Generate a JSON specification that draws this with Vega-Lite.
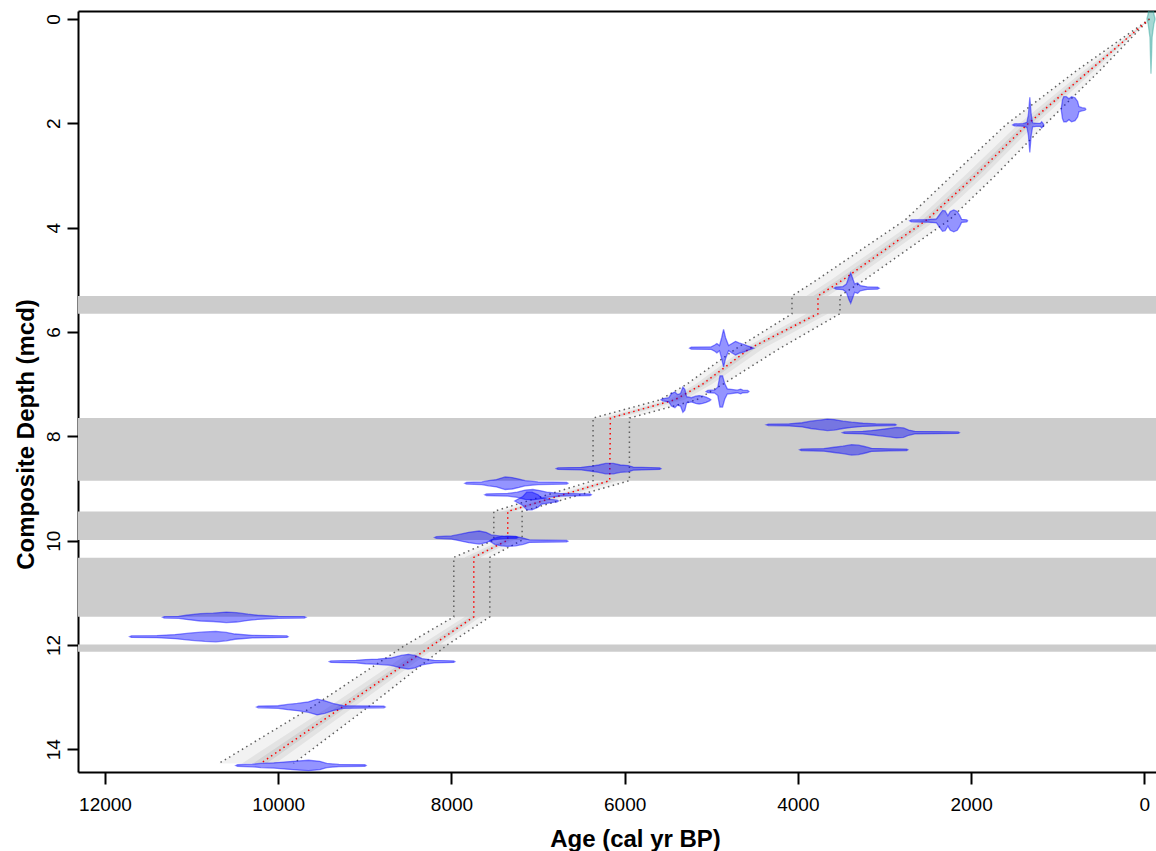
{
  "$schema": "https://vega.github.io/schema/vega-lite/v6.json",
  "width": 1078,
  "height": 761,
  "autosize": {"type": "none"},
  "padding": {"left": 78, "top": 11, "right": 0, "bottom": 79},
  "background": "white",
  "view": {"stroke": null},
  "config": {
    "font": "Liberation Sans",
    "axis": {"grid": false, "domainColor": "black", "tickColor": "black", "labelColor": "black", "titleColor": "black", "domainWidth": 2, "tickWidth": 2, "labelFontSize": 19, "labelOverlap": false, "labelFlush": false}
  },
  "datasets": {
    "model": [
      {"depth": 0, "med": -60, "old": -60, "young": -60, "iold": -60, "iyoung": -60, "cold": -60, "cyoung": -60},
      {"depth": 1.0, "med": 640, "old": 790, "young": 520, "iold": 707, "iyoung": 586, "cold": 667, "cyoung": 618},
      {"depth": 2.03, "med": 1357, "old": 1600, "young": 1150, "iold": 1466, "iyoung": 1264, "cold": 1401, "cyoung": 1320},
      {"depth": 3.0, "med": 1950, "old": 2220, "young": 1720, "iold": 2072, "iyoung": 1846, "cold": 1999, "cyoung": 1909},
      {"depth": 3.85, "med": 2511, "old": 2760, "young": 2250, "iold": 2623, "iyoung": 2394, "cold": 2556, "cyoung": 2464},
      {"depth": 5.0, "med": 3480, "old": 3780, "young": 3230, "iold": 3615, "iyoung": 3367, "cold": 3534, "cyoung": 3435},
      {"depth": 5.31, "med": 3768, "old": 4068, "young": 3514, "iold": 3903, "iyoung": 3654, "cold": 3822, "cyoung": 3722},
      {"depth": 5.65, "med": 3768, "old": 4068, "young": 3514, "iold": 3903, "iyoung": 3654, "cold": 3822, "cyoung": 3722},
      {"depth": 6.31, "med": 4550, "old": 4705, "young": 4205, "iold": 4620, "iyoung": 4395, "cold": 4578, "cyoung": 4488},
      {"depth": 7.0, "med": 5100, "old": 5283, "young": 4864, "iold": 5182, "iyoung": 4994, "cold": 5133, "cyoung": 5058},
      {"depth": 7.3, "med": 5420, "old": 5590, "young": 5168, "iold": 5497, "iyoung": 5307, "cold": 5451, "cyoung": 5375},
      {"depth": 7.65, "med": 6165, "old": 6365, "young": 5945, "iold": 6255, "iyoung": 6066, "cold": 6201, "cyoung": 6125},
      {"depth": 8.85, "med": 6173, "old": 6365, "young": 5945, "iold": 6259, "iyoung": 6071, "cold": 6208, "cyoung": 6133},
      {"depth": 9.44, "med": 7350, "old": 7511, "young": 7184, "iold": 7422, "iyoung": 7275, "cold": 7379, "cyoung": 7320},
      {"depth": 9.99, "med": 7350, "old": 7511, "young": 7184, "iold": 7422, "iyoung": 7275, "cold": 7379, "cyoung": 7320},
      {"depth": 10.32, "med": 7742, "old": 7973, "young": 7557, "iold": 7846, "iyoung": 7659, "cold": 7784, "cyoung": 7709},
      {"depth": 11.46, "med": 7742, "old": 7973, "young": 7557, "iold": 7846, "iyoung": 7659, "cold": 7784, "cyoung": 7709},
      {"depth": 12.0, "med": 8215, "old": 8530, "young": 8050, "iold": 8357, "iyoung": 8141, "cold": 8272, "cyoung": 8185},
      {"depth": 13.2, "med": 9270, "old": 9620, "young": 8970, "iold": 9427, "iyoung": 9135, "cold": 9333, "cyoung": 9216},
      {"depth": 14.27, "med": 10203, "old": 10684, "young": 9823, "iold": 10419, "iyoung": 10032, "cold": 10290, "cyoung": 10135}
    ],
    "bands": [
      {"top": 5.31, "bottom": 5.65},
      {"top": 7.65, "bottom": 8.85},
      {"top": 9.44, "bottom": 9.99},
      {"top": 10.33, "bottom": 11.46},
      {"top": 11.99, "bottom": 12.13}
    ],
    "dates": [
      {"date": "t", "kind": "cal", "depth": 0, "age": -125, "p": 0},
      {"date": "t", "kind": "cal", "depth": 0, "age": -110, "p": 0.1},
      {"date": "t", "kind": "cal", "depth": 0, "age": -90, "p": 0.35},
      {"date": "t", "kind": "cal", "depth": 0, "age": -77, "p": 1.05},
      {"date": "t", "kind": "cal", "depth": 0, "age": -65, "p": 0.35},
      {"date": "t", "kind": "cal", "depth": 0, "age": -45, "p": 0.1},
      {"date": "t", "kind": "cal", "depth": 0, "age": -30, "p": 0},

      {"date": "d2", "kind": "c14", "depth": 1.73, "age": 960, "p": 0},
      {"date": "d2", "kind": "c14", "depth": 1.73, "age": 945, "p": 0.18},
      {"date": "d2", "kind": "c14", "depth": 1.73, "age": 930, "p": 0.24},
      {"date": "d2", "kind": "c14", "depth": 1.73, "age": 900, "p": 0.24},
      {"date": "d2", "kind": "c14", "depth": 1.73, "age": 870, "p": 0.2},
      {"date": "d2", "kind": "c14", "depth": 1.73, "age": 840, "p": 0.24},
      {"date": "d2", "kind": "c14", "depth": 1.73, "age": 800, "p": 0.22},
      {"date": "d2", "kind": "c14", "depth": 1.73, "age": 770, "p": 0.15},
      {"date": "d2", "kind": "c14", "depth": 1.73, "age": 755, "p": 0.05},
      {"date": "d2", "kind": "c14", "depth": 1.73, "age": 720, "p": 0.03},
      {"date": "d2", "kind": "c14", "depth": 1.73, "age": 685, "p": 0.02},
      {"date": "d2", "kind": "c14", "depth": 1.73, "age": 675, "p": 0},

      {"date": "d3", "kind": "c14", "depth": 2.03, "age": 1520, "p": 0},
      {"date": "d3", "kind": "c14", "depth": 2.03, "age": 1500, "p": 0.02},
      {"date": "d3", "kind": "c14", "depth": 2.03, "age": 1400, "p": 0.025},
      {"date": "d3", "kind": "c14", "depth": 2.03, "age": 1355, "p": 0.05},
      {"date": "d3", "kind": "c14", "depth": 2.03, "age": 1338, "p": 0.2},
      {"date": "d3", "kind": "c14", "depth": 2.03, "age": 1322, "p": 0.53},
      {"date": "d3", "kind": "c14", "depth": 2.03, "age": 1306, "p": 0.2},
      {"date": "d3", "kind": "c14", "depth": 2.03, "age": 1290, "p": 0.04},
      {"date": "d3", "kind": "c14", "depth": 2.03, "age": 1250, "p": 0.03},
      {"date": "d3", "kind": "c14", "depth": 2.03, "age": 1200, "p": 0.03},
      {"date": "d3", "kind": "c14", "depth": 2.03, "age": 1185, "p": 0.06},
      {"date": "d3", "kind": "c14", "depth": 2.03, "age": 1170, "p": 0.03},
      {"date": "d3", "kind": "c14", "depth": 2.03, "age": 1160, "p": 0},

      {"date": "d4", "kind": "c14", "depth": 3.87, "age": 2710, "p": 0},
      {"date": "d4", "kind": "c14", "depth": 3.87, "age": 2690, "p": 0.02},
      {"date": "d4", "kind": "c14", "depth": 3.87, "age": 2500, "p": 0.025},
      {"date": "d4", "kind": "c14", "depth": 3.87, "age": 2400, "p": 0.04},
      {"date": "d4", "kind": "c14", "depth": 3.87, "age": 2365, "p": 0.12},
      {"date": "d4", "kind": "c14", "depth": 3.87, "age": 2330, "p": 0.2},
      {"date": "d4", "kind": "c14", "depth": 3.87, "age": 2300, "p": 0.19},
      {"date": "d4", "kind": "c14", "depth": 3.87, "age": 2268, "p": 0.1},
      {"date": "d4", "kind": "c14", "depth": 3.87, "age": 2240, "p": 0.18},
      {"date": "d4", "kind": "c14", "depth": 3.87, "age": 2200, "p": 0.21},
      {"date": "d4", "kind": "c14", "depth": 3.87, "age": 2160, "p": 0.18},
      {"date": "d4", "kind": "c14", "depth": 3.87, "age": 2130, "p": 0.1},
      {"date": "d4", "kind": "c14", "depth": 3.87, "age": 2110, "p": 0.03},
      {"date": "d4", "kind": "c14", "depth": 3.87, "age": 2050, "p": 0.02},
      {"date": "d4", "kind": "c14", "depth": 3.87, "age": 2040, "p": 0},

      {"date": "d5", "kind": "c14", "depth": 5.16, "age": 3580, "p": 0},
      {"date": "d5", "kind": "c14", "depth": 5.16, "age": 3560, "p": 0.02},
      {"date": "d5", "kind": "c14", "depth": 5.16, "age": 3480, "p": 0.03},
      {"date": "d5", "kind": "c14", "depth": 5.16, "age": 3440, "p": 0.08},
      {"date": "d5", "kind": "c14", "depth": 5.16, "age": 3410, "p": 0.22},
      {"date": "d5", "kind": "c14", "depth": 5.16, "age": 3390, "p": 0.29},
      {"date": "d5", "kind": "c14", "depth": 5.16, "age": 3370, "p": 0.2},
      {"date": "d5", "kind": "c14", "depth": 5.16, "age": 3345, "p": 0.08},
      {"date": "d5", "kind": "c14", "depth": 5.16, "age": 3310, "p": 0.1},
      {"date": "d5", "kind": "c14", "depth": 5.16, "age": 3280, "p": 0.05},
      {"date": "d5", "kind": "c14", "depth": 5.16, "age": 3200, "p": 0.025},
      {"date": "d5", "kind": "c14", "depth": 5.16, "age": 3080, "p": 0.02},
      {"date": "d5", "kind": "c14", "depth": 5.16, "age": 3060, "p": 0},

      {"date": "d6", "kind": "c14", "depth": 6.31, "age": 5250, "p": 0},
      {"date": "d6", "kind": "c14", "depth": 6.31, "age": 5230, "p": 0.02},
      {"date": "d6", "kind": "c14", "depth": 6.31, "age": 5000, "p": 0.025},
      {"date": "d6", "kind": "c14", "depth": 6.31, "age": 4960, "p": 0.06},
      {"date": "d6", "kind": "c14", "depth": 6.31, "age": 4935, "p": 0.09},
      {"date": "d6", "kind": "c14", "depth": 6.31, "age": 4905, "p": 0.05},
      {"date": "d6", "kind": "c14", "depth": 6.31, "age": 4880, "p": 0.2},
      {"date": "d6", "kind": "c14", "depth": 6.31, "age": 4858, "p": 0.36},
      {"date": "d6", "kind": "c14", "depth": 6.31, "age": 4835, "p": 0.2},
      {"date": "d6", "kind": "c14", "depth": 6.31, "age": 4800, "p": 0.05},
      {"date": "d6", "kind": "c14", "depth": 6.31, "age": 4770, "p": 0.08},
      {"date": "d6", "kind": "c14", "depth": 6.31, "age": 4720, "p": 0.13},
      {"date": "d6", "kind": "c14", "depth": 6.31, "age": 4680, "p": 0.1},
      {"date": "d6", "kind": "c14", "depth": 6.31, "age": 4620, "p": 0.07},
      {"date": "d6", "kind": "c14", "depth": 6.31, "age": 4590, "p": 0.05},
      {"date": "d6", "kind": "c14", "depth": 6.31, "age": 4540, "p": 0.02},
      {"date": "d6", "kind": "c14", "depth": 6.31, "age": 4510, "p": 0},

      {"date": "d7", "kind": "c14", "depth": 7.14, "age": 5060, "p": 0},
      {"date": "d7", "kind": "c14", "depth": 7.14, "age": 5040, "p": 0.02},
      {"date": "d7", "kind": "c14", "depth": 7.14, "age": 4960, "p": 0.03},
      {"date": "d7", "kind": "c14", "depth": 7.14, "age": 4925, "p": 0.08},
      {"date": "d7", "kind": "c14", "depth": 7.14, "age": 4900, "p": 0.3},
      {"date": "d7", "kind": "c14", "depth": 7.14, "age": 4870, "p": 0.3},
      {"date": "d7", "kind": "c14", "depth": 7.14, "age": 4845, "p": 0.15},
      {"date": "d7", "kind": "c14", "depth": 7.14, "age": 4815, "p": 0.05},
      {"date": "d7", "kind": "c14", "depth": 7.14, "age": 4700, "p": 0.025},
      {"date": "d7", "kind": "c14", "depth": 7.14, "age": 4660, "p": 0.045},
      {"date": "d7", "kind": "c14", "depth": 7.14, "age": 4635, "p": 0.025},
      {"date": "d7", "kind": "c14", "depth": 7.14, "age": 4580, "p": 0.02},
      {"date": "d7", "kind": "c14", "depth": 7.14, "age": 4565, "p": 0},

      {"date": "d8", "kind": "c14", "depth": 7.3, "age": 5580, "p": 0},
      {"date": "d8", "kind": "c14", "depth": 7.3, "age": 5560, "p": 0.02},
      {"date": "d8", "kind": "c14", "depth": 7.3, "age": 5490, "p": 0.04},
      {"date": "d8", "kind": "c14", "depth": 7.3, "age": 5460, "p": 0.12},
      {"date": "d8", "kind": "c14", "depth": 7.3, "age": 5420, "p": 0.15},
      {"date": "d8", "kind": "c14", "depth": 7.3, "age": 5390, "p": 0.1},
      {"date": "d8", "kind": "c14", "depth": 7.3, "age": 5355, "p": 0.12},
      {"date": "d8", "kind": "c14", "depth": 7.3, "age": 5328, "p": 0.24},
      {"date": "d8", "kind": "c14", "depth": 7.3, "age": 5305, "p": 0.2},
      {"date": "d8", "kind": "c14", "depth": 7.3, "age": 5285, "p": 0.06},
      {"date": "d8", "kind": "c14", "depth": 7.3, "age": 5230, "p": 0.04},
      {"date": "d8", "kind": "c14", "depth": 7.3, "age": 5180, "p": 0.07},
      {"date": "d8", "kind": "c14", "depth": 7.3, "age": 5140, "p": 0.08},
      {"date": "d8", "kind": "c14", "depth": 7.3, "age": 5100, "p": 0.07},
      {"date": "d8", "kind": "c14", "depth": 7.3, "age": 5060, "p": 0.05},
      {"date": "d8", "kind": "c14", "depth": 7.3, "age": 5020, "p": 0.02},
      {"date": "d8", "kind": "c14", "depth": 7.3, "age": 5005, "p": 0},

      {"date": "d9", "kind": "c14", "depth": 7.78, "age": 4365, "p": 0},
      {"date": "d9", "kind": "c14", "depth": 7.78, "age": 4340, "p": 0.015},
      {"date": "d9", "kind": "c14", "depth": 7.78, "age": 4100, "p": 0.02},
      {"date": "d9", "kind": "c14", "depth": 7.78, "age": 3950, "p": 0.04},
      {"date": "d9", "kind": "c14", "depth": 7.78, "age": 3850, "p": 0.07},
      {"date": "d9", "kind": "c14", "depth": 7.78, "age": 3750, "p": 0.09},
      {"date": "d9", "kind": "c14", "depth": 7.78, "age": 3660, "p": 0.11},
      {"date": "d9", "kind": "c14", "depth": 7.78, "age": 3580, "p": 0.1},
      {"date": "d9", "kind": "c14", "depth": 7.78, "age": 3480, "p": 0.07},
      {"date": "d9", "kind": "c14", "depth": 7.78, "age": 3380, "p": 0.05},
      {"date": "d9", "kind": "c14", "depth": 7.78, "age": 3250, "p": 0.03},
      {"date": "d9", "kind": "c14", "depth": 7.78, "age": 3100, "p": 0.02},
      {"date": "d9", "kind": "c14", "depth": 7.78, "age": 2880, "p": 0.015},
      {"date": "d9", "kind": "c14", "depth": 7.78, "age": 2865, "p": 0},

      {"date": "d10", "kind": "c14", "depth": 7.93, "age": 3485, "p": 0},
      {"date": "d10", "kind": "c14", "depth": 7.93, "age": 3460, "p": 0.015},
      {"date": "d10", "kind": "c14", "depth": 7.93, "age": 3250, "p": 0.025},
      {"date": "d10", "kind": "c14", "depth": 7.93, "age": 3150, "p": 0.04},
      {"date": "d10", "kind": "c14", "depth": 7.93, "age": 3050, "p": 0.06},
      {"date": "d10", "kind": "c14", "depth": 7.93, "age": 2950, "p": 0.08},
      {"date": "d10", "kind": "c14", "depth": 7.93, "age": 2860, "p": 0.1},
      {"date": "d10", "kind": "c14", "depth": 7.93, "age": 2780, "p": 0.09},
      {"date": "d10", "kind": "c14", "depth": 7.93, "age": 2720, "p": 0.05},
      {"date": "d10", "kind": "c14", "depth": 7.93, "age": 2650, "p": 0.025},
      {"date": "d10", "kind": "c14", "depth": 7.93, "age": 2400, "p": 0.02},
      {"date": "d10", "kind": "c14", "depth": 7.93, "age": 2150, "p": 0.015},
      {"date": "d10", "kind": "c14", "depth": 7.93, "age": 2135, "p": 0},

      {"date": "d11", "kind": "c14", "depth": 8.26, "age": 3980, "p": 0},
      {"date": "d11", "kind": "c14", "depth": 8.26, "age": 3960, "p": 0.015},
      {"date": "d11", "kind": "c14", "depth": 8.26, "age": 3700, "p": 0.025},
      {"date": "d11", "kind": "c14", "depth": 8.26, "age": 3580, "p": 0.05},
      {"date": "d11", "kind": "c14", "depth": 8.26, "age": 3480, "p": 0.07},
      {"date": "d11", "kind": "c14", "depth": 8.26, "age": 3380, "p": 0.1},
      {"date": "d11", "kind": "c14", "depth": 8.26, "age": 3300, "p": 0.09},
      {"date": "d11", "kind": "c14", "depth": 8.26, "age": 3220, "p": 0.06},
      {"date": "d11", "kind": "c14", "depth": 8.26, "age": 3150, "p": 0.03},
      {"date": "d11", "kind": "c14", "depth": 8.26, "age": 2950, "p": 0.02},
      {"date": "d11", "kind": "c14", "depth": 8.26, "age": 2745, "p": 0.015},
      {"date": "d11", "kind": "c14", "depth": 8.26, "age": 2730, "p": 0},

      {"date": "d12", "kind": "c14", "depth": 8.62, "age": 6790, "p": 0},
      {"date": "d12", "kind": "c14", "depth": 8.62, "age": 6770, "p": 0.015},
      {"date": "d12", "kind": "c14", "depth": 8.62, "age": 6500, "p": 0.025},
      {"date": "d12", "kind": "c14", "depth": 8.62, "age": 6380, "p": 0.05},
      {"date": "d12", "kind": "c14", "depth": 8.62, "age": 6300, "p": 0.07},
      {"date": "d12", "kind": "c14", "depth": 8.62, "age": 6220, "p": 0.1},
      {"date": "d12", "kind": "c14", "depth": 8.62, "age": 6130, "p": 0.1},
      {"date": "d12", "kind": "c14", "depth": 8.62, "age": 6050, "p": 0.07},
      {"date": "d12", "kind": "c14", "depth": 8.62, "age": 5960, "p": 0.06},
      {"date": "d12", "kind": "c14", "depth": 8.62, "age": 5900, "p": 0.03},
      {"date": "d12", "kind": "c14", "depth": 8.62, "age": 5700, "p": 0.02},
      {"date": "d12", "kind": "c14", "depth": 8.62, "age": 5595, "p": 0.015},
      {"date": "d12", "kind": "c14", "depth": 8.62, "age": 5580, "p": 0},

      {"date": "d13", "kind": "c14", "depth": 8.9, "age": 7845, "p": 0},
      {"date": "d13", "kind": "c14", "depth": 8.9, "age": 7825, "p": 0.015},
      {"date": "d13", "kind": "c14", "depth": 8.9, "age": 7650, "p": 0.025},
      {"date": "d13", "kind": "c14", "depth": 8.9, "age": 7570, "p": 0.05},
      {"date": "d13", "kind": "c14", "depth": 8.9, "age": 7480, "p": 0.07},
      {"date": "d13", "kind": "c14", "depth": 8.9, "age": 7380, "p": 0.12},
      {"date": "d13", "kind": "c14", "depth": 8.9, "age": 7300, "p": 0.11},
      {"date": "d13", "kind": "c14", "depth": 8.9, "age": 7220, "p": 0.08},
      {"date": "d13", "kind": "c14", "depth": 8.9, "age": 7150, "p": 0.05},
      {"date": "d13", "kind": "c14", "depth": 8.9, "age": 7000, "p": 0.025},
      {"date": "d13", "kind": "c14", "depth": 8.9, "age": 6670, "p": 0.015},
      {"date": "d13", "kind": "c14", "depth": 8.9, "age": 6655, "p": 0},

      {"date": "d14", "kind": "c14", "depth": 9.12, "age": 7615, "p": 0},
      {"date": "d14", "kind": "c14", "depth": 9.12, "age": 7595, "p": 0.015},
      {"date": "d14", "kind": "c14", "depth": 9.12, "age": 7350, "p": 0.025},
      {"date": "d14", "kind": "c14", "depth": 9.12, "age": 7240, "p": 0.05},
      {"date": "d14", "kind": "c14", "depth": 9.12, "age": 7150, "p": 0.09},
      {"date": "d14", "kind": "c14", "depth": 9.12, "age": 7060, "p": 0.1},
      {"date": "d14", "kind": "c14", "depth": 9.12, "age": 6980, "p": 0.08},
      {"date": "d14", "kind": "c14", "depth": 9.12, "age": 6900, "p": 0.05},
      {"date": "d14", "kind": "c14", "depth": 9.12, "age": 6750, "p": 0.025},
      {"date": "d14", "kind": "c14", "depth": 9.12, "age": 6400, "p": 0.015},
      {"date": "d14", "kind": "c14", "depth": 9.12, "age": 6385, "p": 0},

      {"date": "d15", "kind": "c14", "depth": 9.24, "age": 7270, "p": 0},
      {"date": "d15", "kind": "c14", "depth": 9.24, "age": 7250, "p": 0.02},
      {"date": "d15", "kind": "c14", "depth": 9.24, "age": 7180, "p": 0.08},
      {"date": "d15", "kind": "c14", "depth": 9.24, "age": 7130, "p": 0.17},
      {"date": "d15", "kind": "c14", "depth": 9.24, "age": 7070, "p": 0.17},
      {"date": "d15", "kind": "c14", "depth": 9.24, "age": 7000, "p": 0.12},
      {"date": "d15", "kind": "c14", "depth": 9.24, "age": 6960, "p": 0.06},
      {"date": "d15", "kind": "c14", "depth": 9.24, "age": 6850, "p": 0.03},
      {"date": "d15", "kind": "c14", "depth": 9.24, "age": 6780, "p": 0.015},
      {"date": "d15", "kind": "c14", "depth": 9.24, "age": 6765, "p": 0},

      {"date": "d16", "kind": "c14", "depth": 9.94, "age": 8195, "p": 0},
      {"date": "d16", "kind": "c14", "depth": 9.94, "age": 8175, "p": 0.015},
      {"date": "d16", "kind": "c14", "depth": 9.94, "age": 8000, "p": 0.03},
      {"date": "d16", "kind": "c14", "depth": 9.94, "age": 7910, "p": 0.06},
      {"date": "d16", "kind": "c14", "depth": 9.94, "age": 7800, "p": 0.1},
      {"date": "d16", "kind": "c14", "depth": 9.94, "age": 7680, "p": 0.125},
      {"date": "d16", "kind": "c14", "depth": 9.94, "age": 7600, "p": 0.1},
      {"date": "d16", "kind": "c14", "depth": 9.94, "age": 7540, "p": 0.05},
      {"date": "d16", "kind": "c14", "depth": 9.94, "age": 7400, "p": 0.02},
      {"date": "d16", "kind": "c14", "depth": 9.94, "age": 7250, "p": 0.015},
      {"date": "d16", "kind": "c14", "depth": 9.94, "age": 7235, "p": 0},

      {"date": "d17", "kind": "c14", "depth": 10.01, "age": 7560, "p": 0},
      {"date": "d17", "kind": "c14", "depth": 10.01, "age": 7540, "p": 0.02},
      {"date": "d17", "kind": "c14", "depth": 10.01, "age": 7500, "p": 0.06},
      {"date": "d17", "kind": "c14", "depth": 10.01, "age": 7420, "p": 0.09},
      {"date": "d17", "kind": "c14", "depth": 10.01, "age": 7350, "p": 0.1},
      {"date": "d17", "kind": "c14", "depth": 10.01, "age": 7260, "p": 0.09},
      {"date": "d17", "kind": "c14", "depth": 10.01, "age": 7170, "p": 0.06},
      {"date": "d17", "kind": "c14", "depth": 10.01, "age": 7100, "p": 0.025},
      {"date": "d17", "kind": "c14", "depth": 10.01, "age": 6900, "p": 0.02},
      {"date": "d17", "kind": "c14", "depth": 10.01, "age": 6670, "p": 0.015},
      {"date": "d17", "kind": "c14", "depth": 10.01, "age": 6655, "p": 0},

      {"date": "d18", "kind": "c14", "depth": 11.47, "age": 11335, "p": 0},
      {"date": "d18", "kind": "c14", "depth": 11.47, "age": 11315, "p": 0.015},
      {"date": "d18", "kind": "c14", "depth": 11.47, "age": 11150, "p": 0.02},
      {"date": "d18", "kind": "c14", "depth": 11.47, "age": 11060, "p": 0.04},
      {"date": "d18", "kind": "c14", "depth": 11.47, "age": 10900, "p": 0.07},
      {"date": "d18", "kind": "c14", "depth": 11.47, "age": 10750, "p": 0.08},
      {"date": "d18", "kind": "c14", "depth": 11.47, "age": 10600, "p": 0.1},
      {"date": "d18", "kind": "c14", "depth": 11.47, "age": 10480, "p": 0.09},
      {"date": "d18", "kind": "c14", "depth": 11.47, "age": 10350, "p": 0.06},
      {"date": "d18", "kind": "c14", "depth": 11.47, "age": 10240, "p": 0.04},
      {"date": "d18", "kind": "c14", "depth": 11.47, "age": 10000, "p": 0.02},
      {"date": "d18", "kind": "c14", "depth": 11.47, "age": 9700, "p": 0.015},
      {"date": "d18", "kind": "c14", "depth": 11.47, "age": 9680, "p": 0},

      {"date": "d19", "kind": "c14", "depth": 11.84, "age": 11715, "p": 0},
      {"date": "d19", "kind": "c14", "depth": 11.84, "age": 11695, "p": 0.015},
      {"date": "d19", "kind": "c14", "depth": 11.84, "age": 11400, "p": 0.02},
      {"date": "d19", "kind": "c14", "depth": 11.84, "age": 11190, "p": 0.04},
      {"date": "d19", "kind": "c14", "depth": 11.84, "age": 11000, "p": 0.07},
      {"date": "d19", "kind": "c14", "depth": 11.84, "age": 10850, "p": 0.09},
      {"date": "d19", "kind": "c14", "depth": 11.84, "age": 10720, "p": 0.1},
      {"date": "d19", "kind": "c14", "depth": 11.84, "age": 10600, "p": 0.08},
      {"date": "d19", "kind": "c14", "depth": 11.84, "age": 10500, "p": 0.05},
      {"date": "d19", "kind": "c14", "depth": 11.84, "age": 10300, "p": 0.025},
      {"date": "d19", "kind": "c14", "depth": 11.84, "age": 9900, "p": 0.015},
      {"date": "d19", "kind": "c14", "depth": 11.84, "age": 9885, "p": 0},

      {"date": "d20", "kind": "c14", "depth": 12.32, "age": 9410, "p": 0},
      {"date": "d20", "kind": "c14", "depth": 12.32, "age": 9390, "p": 0.015},
      {"date": "d20", "kind": "c14", "depth": 12.32, "age": 9100, "p": 0.025},
      {"date": "d20", "kind": "c14", "depth": 12.32, "age": 8990, "p": 0.04},
      {"date": "d20", "kind": "c14", "depth": 12.32, "age": 8850, "p": 0.05},
      {"date": "d20", "kind": "c14", "depth": 12.32, "age": 8700, "p": 0.07},
      {"date": "d20", "kind": "c14", "depth": 12.32, "age": 8580, "p": 0.12},
      {"date": "d20", "kind": "c14", "depth": 12.32, "age": 8500, "p": 0.14},
      {"date": "d20", "kind": "c14", "depth": 12.32, "age": 8420, "p": 0.12},
      {"date": "d20", "kind": "c14", "depth": 12.32, "age": 8340, "p": 0.06},
      {"date": "d20", "kind": "c14", "depth": 12.32, "age": 8200, "p": 0.025},
      {"date": "d20", "kind": "c14", "depth": 12.32, "age": 7975, "p": 0.015},
      {"date": "d20", "kind": "c14", "depth": 12.32, "age": 7960, "p": 0},

      {"date": "d21", "kind": "c14", "depth": 13.19, "age": 10250, "p": 0},
      {"date": "d21", "kind": "c14", "depth": 13.19, "age": 10230, "p": 0.015},
      {"date": "d21", "kind": "c14", "depth": 13.19, "age": 10000, "p": 0.025},
      {"date": "d21", "kind": "c14", "depth": 13.19, "age": 9890, "p": 0.05},
      {"date": "d21", "kind": "c14", "depth": 13.19, "age": 9780, "p": 0.07},
      {"date": "d21", "kind": "c14", "depth": 13.19, "age": 9650, "p": 0.1},
      {"date": "d21", "kind": "c14", "depth": 13.19, "age": 9550, "p": 0.15},
      {"date": "d21", "kind": "c14", "depth": 13.19, "age": 9460, "p": 0.12},
      {"date": "d21", "kind": "c14", "depth": 13.19, "age": 9370, "p": 0.07},
      {"date": "d21", "kind": "c14", "depth": 13.19, "age": 9250, "p": 0.025},
      {"date": "d21", "kind": "c14", "depth": 13.19, "age": 8780, "p": 0.015},
      {"date": "d21", "kind": "c14", "depth": 13.19, "age": 8765, "p": 0},

      {"date": "d22", "kind": "c14", "depth": 14.31, "age": 10490, "p": 0},
      {"date": "d22", "kind": "c14", "depth": 14.31, "age": 10470, "p": 0.015},
      {"date": "d22", "kind": "c14", "depth": 14.31, "age": 10300, "p": 0.025},
      {"date": "d22", "kind": "c14", "depth": 14.31, "age": 10200, "p": 0.04},
      {"date": "d22", "kind": "c14", "depth": 14.31, "age": 10050, "p": 0.05},
      {"date": "d22", "kind": "c14", "depth": 14.31, "age": 9900, "p": 0.07},
      {"date": "d22", "kind": "c14", "depth": 14.31, "age": 9750, "p": 0.09},
      {"date": "d22", "kind": "c14", "depth": 14.31, "age": 9650, "p": 0.1},
      {"date": "d22", "kind": "c14", "depth": 14.31, "age": 9520, "p": 0.08},
      {"date": "d22", "kind": "c14", "depth": 14.31, "age": 9440, "p": 0.04},
      {"date": "d22", "kind": "c14", "depth": 14.31, "age": 9300, "p": 0.02},
      {"date": "d22", "kind": "c14", "depth": 14.31, "age": 9000, "p": 0.015},
      {"date": "d22", "kind": "c14", "depth": 14.31, "age": 8985, "p": 0}
    ]
  },
  "layer": [
    {
      "data": {"name": "model"},
      "mark": {"type": "area", "orient": "horizontal", "color": "#000000", "opacity": 0.05},
      "encoding": {
        "y": {"field": "depth", "type": "quantitative", "scale": {"domain": [-0.153, 14.435], "reverse": true, "nice": false, "zero": false},
          "axis": {"orient": "left", "values": [0, 2, 4, 6, 8, 10, 12, 14], "format": "d", "title": "Composite Depth (mcd)", "titleFontSize": 24, "titleFontWeight": "bold", "titleAngle": 270, "titleX": -45, "titleY": 423, "titleBaseline": "alphabetic", "titleAlign": "center", "labelAngle": 270, "labelAlign": "center", "labelBaseline": "alphabetic", "labelPadding": 8, "tickSize": 11}},
        "x": {"field": "old", "type": "quantitative", "scale": {"domain": [-135, 12312], "reverse": true, "nice": false, "zero": false},
          "axis": {"orient": "bottom", "values": [0, 2000, 4000, 6000, 8000, 10000, 12000], "format": "d", "title": "Age (cal yr BP)", "titleFontSize": 24, "titleFontWeight": "bold", "titleX": 557, "titleY": 74, "titleBaseline": "alphabetic", "titleAlign": "center", "labelBaseline": "alphabetic", "labelPadding": 26, "tickSize": 12}},
        "x2": {"field": "young"}
      }
    },
    {
      "data": {"name": "model"},
      "mark": {"type": "area", "orient": "horizontal", "color": "#000000", "opacity": 0.06},
      "encoding": {
        "y": {"field": "depth", "type": "quantitative", "axis": null},
        "x": {"field": "iold", "type": "quantitative", "axis": {"orient": "top", "labels": false, "ticks": false, "title": null, "domain": true}},
        "x2": {"field": "iyoung"}
      }
    },
    {
      "data": {"name": "model"},
      "mark": {"type": "area", "orient": "horizontal", "color": "#000000", "opacity": 0.07},
      "encoding": {
        "y": {"field": "depth", "type": "quantitative", "axis": null},
        "x": {"field": "cold", "type": "quantitative", "axis": null},
        "x2": {"field": "cyoung"}
      }
    },
    {
      "data": {"name": "bands"},
      "mark": {"type": "rect", "color": "#cccccc", "opacity": 1},
      "encoding": {
        "y": {"field": "top", "type": "quantitative", "axis": null},
        "y2": {"field": "bottom"}
      }
    },
    {
      "data": {"name": "model"},
      "mark": {"type": "line", "color": "#606060", "strokeWidth": 1.5, "strokeDash": [1.5, 3.5]},
      "encoding": {
        "y": {"field": "depth", "type": "quantitative", "axis": null},
        "x": {"field": "old", "type": "quantitative", "axis": null},
        "order": {"field": "depth"}
      }
    },
    {
      "data": {"name": "model"},
      "mark": {"type": "line", "color": "#606060", "strokeWidth": 1.5, "strokeDash": [1.5, 3.5]},
      "encoding": {
        "y": {"field": "depth", "type": "quantitative", "axis": null},
        "x": {"field": "young", "type": "quantitative", "axis": null},
        "order": {"field": "depth"}
      }
    },
    {
      "data": {"name": "model"},
      "mark": {"type": "line", "color": "#ff0000", "strokeWidth": 1.5, "strokeDash": [1.5, 3.5]},
      "encoding": {
        "y": {"field": "depth", "type": "quantitative", "axis": null},
        "x": {"field": "med", "type": "quantitative", "axis": null},
        "order": {"field": "depth"}
      }
    },
    {
      "data": {"name": "dates"},
      "transform": [
        {"calculate": "datum.depth - datum.p", "as": "lo"},
        {"calculate": "datum.depth + datum.p", "as": "hi"}
      ],
      "mark": {"type": "area", "clip": true, "fillOpacity": 0.42, "strokeOpacity": 0.45, "strokeWidth": 1.3},
      "encoding": {
        "x": {"field": "age", "type": "quantitative", "axis": null},
        "y": {"field": "lo", "type": "quantitative", "axis": null},
        "y2": {"field": "hi"},
        "detail": {"field": "date"},
        "fill": {"field": "kind", "type": "nominal", "scale": {"domain": ["c14", "cal"], "range": ["#0000ff", "#2aa198"]}, "legend": null},
        "stroke": {"field": "kind", "type": "nominal", "scale": {"domain": ["c14", "cal"], "range": ["#0000ff", "#2aa198"]}, "legend": null}
      }
    }
  ],
  "resolve": {"axis": {"x": "independent", "y": "independent"}}
}
